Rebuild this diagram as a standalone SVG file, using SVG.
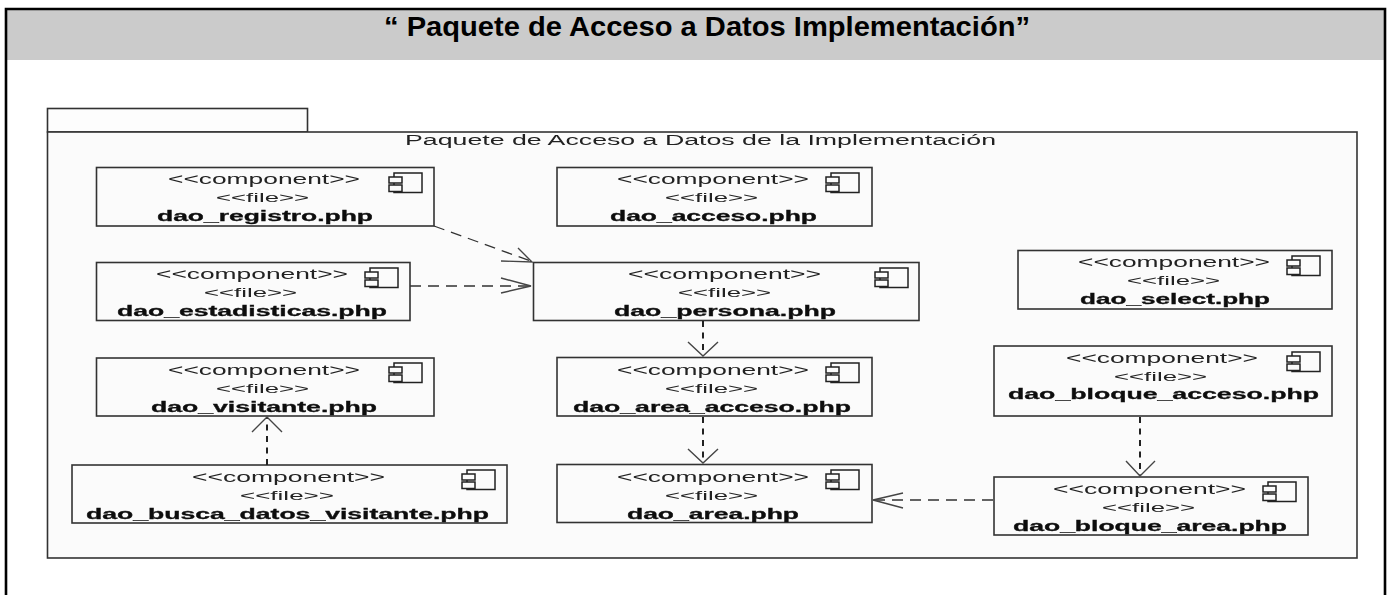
<svg xmlns="http://www.w3.org/2000/svg" xmlns:xlink="http://www.w3.org/1999/xlink" width="1392" height="595" viewBox="0 0 1392 595">
<style>
text{font-family:"Liberation Sans",Arial,sans-serif;fill:#222}
.b{fill:#fbfbfb;stroke:#333;stroke-width:1.6}
.c{font-size:14.500px}
.f{font-size:12.500px}
.n{font-size:14px;font-weight:bold;fill:#111;stroke:#111;stroke-width:.3}
.d{fill:none;stroke:#333;stroke-width:1.3;stroke-dasharray:11 7}
.v{fill:none;stroke:#222;stroke-width:2;stroke-dasharray:6 5.5}
.h{fill:none;stroke:#444;stroke-width:1.4}
.i{fill:#fbfbfb;stroke:#222;stroke-width:1.5}
</style>
<defs>
<filter id="s" x="-2%" y="-2%" width="104%" height="104%"><feGaussianBlur stdDeviation="0.4"/></filter>
<g id="ic"><rect class="i" x="5" y="0" width="28" height="19.500"/><rect class="i" x="0" y="4" width="13" height="6"/><rect class="i" x="0" y="12" width="13" height="6.500"/></g>
</defs>
<rect width="1392" height="595" fill="#fff"/>
<g id="frame">
<rect x="6" y="10" width="1379" height="50" fill="#cbcbcb"/>
<path d="M6 595V9H1385V595" fill="none" stroke="#000" stroke-width="2.6"/>
<text x="384" y="36" font-size="27" font-weight="bold" textLength="646" lengthAdjust="spacingAndGlyphs" style="fill:#000">“ Paquete de Acceso a Datos Implementación”</text>
</g>
<g filter="url(#s)">
<g id="package">
<rect class="b" x="47.5" y="108.5" width="260" height="23.5" style="fill:#fdfdfd"/>
<rect class="b" x="47.5" y="132" width="1309.5" height="426"/>
<text x="405" y="145" font-size="14" textLength="591" lengthAdjust="spacingAndGlyphs">Paquete de Acceso a Datos de la Implementación</text>
</g>
<g id="dao_registro">
<rect class="b" x="96.5" y="167.5" width="337.5" height="58.5"/>
<text class="c" x="168" y="184" textLength="192" lengthAdjust="spacingAndGlyphs">&lt;&lt;component&gt;&gt;</text>
<text class="f" x="216" y="202" textLength="93" lengthAdjust="spacingAndGlyphs">&lt;&lt;file&gt;&gt;</text>
<text class="n" x="157" y="221" textLength="216" lengthAdjust="spacingAndGlyphs">dao_registro.php</text>
<use xlink:href="#ic" href="#ic" x="389" y="173"/>
</g>
<g id="dao_acceso">
<rect class="b" x="557" y="167.5" width="315" height="58.5"/>
<text class="c" x="617" y="184" textLength="192" lengthAdjust="spacingAndGlyphs">&lt;&lt;component&gt;&gt;</text>
<text class="f" x="665" y="202" textLength="93" lengthAdjust="spacingAndGlyphs">&lt;&lt;file&gt;&gt;</text>
<text class="n" x="610" y="221" textLength="207" lengthAdjust="spacingAndGlyphs">dao_acceso.php</text>
<use xlink:href="#ic" href="#ic" x="826" y="173"/>
</g>
<g id="dao_estadisticas">
<rect class="b" x="96.5" y="262.5" width="313.5" height="58"/>
<text class="c" x="156" y="279" textLength="192" lengthAdjust="spacingAndGlyphs">&lt;&lt;component&gt;&gt;</text>
<text class="f" x="204" y="297" textLength="93" lengthAdjust="spacingAndGlyphs">&lt;&lt;file&gt;&gt;</text>
<text class="n" x="117" y="316" textLength="270" lengthAdjust="spacingAndGlyphs">dao_estadisticas.php</text>
<use xlink:href="#ic" href="#ic" x="365" y="268"/>
</g>
<g id="dao_persona">
<rect class="b" x="533.5" y="262.5" width="385.5" height="58"/>
<text class="c" x="628" y="279" textLength="193" lengthAdjust="spacingAndGlyphs">&lt;&lt;component&gt;&gt;</text>
<text class="f" x="678" y="297" textLength="93" lengthAdjust="spacingAndGlyphs">&lt;&lt;file&gt;&gt;</text>
<text class="n" x="614" y="316" textLength="222" lengthAdjust="spacingAndGlyphs">dao_persona.php</text>
<use xlink:href="#ic" href="#ic" x="875" y="268"/>
</g>
<g id="dao_select">
<rect class="b" x="1018" y="250.5" width="314" height="58.5"/>
<text class="c" x="1078" y="267" textLength="192" lengthAdjust="spacingAndGlyphs">&lt;&lt;component&gt;&gt;</text>
<text class="f" x="1127" y="285" textLength="93" lengthAdjust="spacingAndGlyphs">&lt;&lt;file&gt;&gt;</text>
<text class="n" x="1080" y="304" textLength="190" lengthAdjust="spacingAndGlyphs">dao_select.php</text>
<use xlink:href="#ic" href="#ic" x="1287" y="256"/>
</g>
<g id="dao_bloque_acceso">
<rect class="b" x="994" y="346" width="338" height="70"/>
<text class="c" x="1066" y="363" textLength="192" lengthAdjust="spacingAndGlyphs">&lt;&lt;component&gt;&gt;</text>
<text class="f" x="1114" y="381" textLength="93" lengthAdjust="spacingAndGlyphs">&lt;&lt;file&gt;&gt;</text>
<text class="n" x="1008" y="399" textLength="311" lengthAdjust="spacingAndGlyphs">dao_bloque_acceso.php</text>
<use xlink:href="#ic" href="#ic" x="1287" y="352"/>
</g>
<g id="dao_visitante">
<rect class="b" x="96.5" y="358" width="337.5" height="58"/>
<text class="c" x="168" y="375" textLength="192" lengthAdjust="spacingAndGlyphs">&lt;&lt;component&gt;&gt;</text>
<text class="f" x="216" y="393" textLength="93" lengthAdjust="spacingAndGlyphs">&lt;&lt;file&gt;&gt;</text>
<text class="n" x="151" y="412" textLength="226" lengthAdjust="spacingAndGlyphs">dao_visitante.php</text>
<use xlink:href="#ic" href="#ic" x="389" y="363"/>
</g>
<g id="dao_area_acceso">
<rect class="b" x="557" y="357.5" width="315" height="58.5"/>
<text class="c" x="617" y="375" textLength="192" lengthAdjust="spacingAndGlyphs">&lt;&lt;component&gt;&gt;</text>
<text class="f" x="665" y="393" textLength="93" lengthAdjust="spacingAndGlyphs">&lt;&lt;file&gt;&gt;</text>
<text class="n" x="573" y="412" textLength="278" lengthAdjust="spacingAndGlyphs">dao_area_acceso.php</text>
<use xlink:href="#ic" href="#ic" x="826" y="363"/>
</g>
<g id="dao_busca_datos_visitante">
<rect class="b" x="72" y="465" width="435" height="58"/>
<text class="c" x="192" y="482" textLength="193" lengthAdjust="spacingAndGlyphs">&lt;&lt;component&gt;&gt;</text>
<text class="f" x="240" y="500" textLength="94" lengthAdjust="spacingAndGlyphs">&lt;&lt;file&gt;&gt;</text>
<text class="n" x="86" y="519" textLength="403" lengthAdjust="spacingAndGlyphs">dao_busca_datos_visitante.php</text>
<use xlink:href="#ic" href="#ic" x="462" y="470"/>
</g>
<g id="dao_area">
<rect class="b" x="557" y="464.5" width="315" height="58"/>
<text class="c" x="617" y="482" textLength="192" lengthAdjust="spacingAndGlyphs">&lt;&lt;component&gt;&gt;</text>
<text class="f" x="665" y="500" textLength="93" lengthAdjust="spacingAndGlyphs">&lt;&lt;file&gt;&gt;</text>
<text class="n" x="627" y="519" textLength="172" lengthAdjust="spacingAndGlyphs">dao_area.php</text>
<use xlink:href="#ic" href="#ic" x="826" y="470"/>
</g>
<g id="dao_bloque_area">
<rect class="b" x="994" y="477" width="314" height="58"/>
<text class="c" x="1053" y="494" textLength="193" lengthAdjust="spacingAndGlyphs">&lt;&lt;component&gt;&gt;</text>
<text class="f" x="1102" y="512" textLength="93" lengthAdjust="spacingAndGlyphs">&lt;&lt;file&gt;&gt;</text>
<text class="n" x="1013" y="531" textLength="274" lengthAdjust="spacingAndGlyphs">dao_bloque_area.php</text>
<use xlink:href="#ic" href="#ic" x="1263" y="482"/>
</g>
<g id="connectors">
<path class="d" d="M434 226L532 261.500"/>
<path class="h" d="M501 261L532 262L518 248"/>
<path class="d" d="M410 286H530"/>
<path class="h" d="M501 278L531 286L501 293"/>
<path class="v" d="M703 321V356"/>
<path class="h" d="M688 342L703 356L718 342"/>
<path class="v" d="M703 417V463"/>
<path class="h" d="M688 449L703 463L718 449"/>
<path class="v" d="M267 465V418"/>
<path class="h" d="M252 432L267 417L282 432"/>
<path class="v" d="M1140 417V476"/>
<path class="h" d="M1126 461L1140 476L1155 461"/>
<path class="d" d="M993 500H874"/>
<path class="h" d="M903 493L873 500L903 508"/>
</g>
</g>
</svg>
